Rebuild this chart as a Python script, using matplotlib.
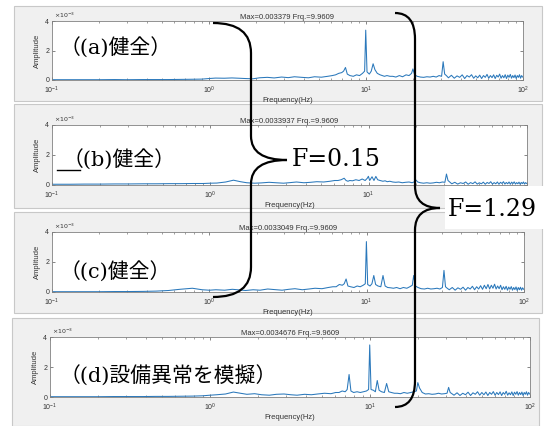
import matplotlib
matplotlib.use('Agg')
import matplotlib.pyplot as plt
from matplotlib.path import Path
from matplotlib.patches import PathPatch, Rectangle
from matplotlib.lines import Line2D

plt.rcParams['font.family'] = ['Liberation Sans', 'DejaVu Sans']

W, H = 545, 426

# --- data (amplitude in units of 1e-3) ---
freq_hz = [
    0.10, 0.13, 0.16, 0.20, 0.25, 0.30, 0.38, 0.46, 0.55, 0.65, 0.78, 0.90, 1.0,
    1.1, 1.25, 1.4, 1.55, 1.7, 1.9, 2.1, 2.35, 2.6, 2.9, 3.2, 3.5, 3.9, 4.3, 4.7, 5.2, 5.7, 6.1,
    6.4, 6.7, 7.0, 7.2, 7.4, 7.6, 7.9, 8.3, 8.7, 9.1, 9.5, 9.8, 9.96, 10.15, 10.5, 10.8, 11.1, 11.4,
    11.8, 12.3, 12.7, 13.1, 13.6, 14.2,
    14.8, 15.5, 16.3, 17.1, 18.0, 18.8, 19.5, 19.9, 20.4, 21.2, 22.2, 23.3, 24.4, 25.6, 26.8, 28.0,
    29.2, 30.3, 31.0, 31.7, 32.5,
    33.5, 35, 36.5, 38, 39.5, 41, 42.5, 44, 45.5, 47, 48.5, 50, 51.5, 53, 54.5, 56, 57.5, 59, 60.5,
    62, 63.5, 65, 66.5, 68, 69.5, 71, 72.5, 74, 75.5, 77, 78.5, 80, 81.5, 83, 84.5, 86, 87.5, 89,
    90.5, 92, 93.5, 95, 96.5, 98, 99.5,
]

amp_a = [
    0.02, 0.02, 0.02, 0.02, 0.03, 0.02, 0.03, 0.03, 0.03, 0.04, 0.05, 0.06, 0.10,
    0.13, 0.12, 0.14, 0.12, 0.10, 0.08, 0.15, 0.18, 0.14, 0.20, 0.16, 0.22, 0.18, 0.15, 0.22, 0.19, 0.25, 0.30,
    0.35, 0.45, 0.50, 0.60, 0.85, 0.40, 0.30, 0.25, 0.35, 0.30, 0.45, 0.60, 3.38, 0.55, 0.40, 0.60, 1.10, 0.70,
    0.45, 0.35, 0.30, 0.25, 0.30, 0.25,
    0.25, 0.20, 0.30, 0.22, 0.35, 0.30, 0.45, 0.75, 0.35, 0.25, 0.20, 0.18, 0.22, 0.20, 0.25, 0.20,
    0.30, 0.25, 1.24, 0.40, 0.30,
    0.15, 0.32, 0.12, 0.28, 0.18, 0.35, 0.10, 0.30, 0.20, 0.36, 0.12, 0.28, 0.15, 0.33, 0.10, 0.30, 0.18, 0.38, 0.12,
    0.30, 0.16, 0.35, 0.10, 0.32, 0.20, 0.40, 0.12, 0.30, 0.15, 0.36, 0.10, 0.33, 0.18, 0.38, 0.12, 0.30, 0.16, 0.34,
    0.10, 0.30, 0.18, 0.36, 0.12, 0.30, 0.20,
]

amp_b = [
    0.05, 0.05, 0.06, 0.06, 0.07, 0.07, 0.08, 0.08, 0.09, 0.09, 0.10, 0.10, 0.12,
    0.13, 0.20, 0.32, 0.22, 0.15, 0.12, 0.14, 0.18, 0.15, 0.12, 0.16, 0.20, 0.15, 0.18, 0.22, 0.20, 0.25, 0.30,
    0.30, 0.35, 0.45, 0.30, 0.25, 0.30, 0.28, 0.35, 0.30, 0.40, 0.30, 0.45, 0.58, 0.30, 0.55, 0.30, 0.57, 0.35,
    0.30, 0.25, 0.28, 0.22, 0.25, 0.20,
    0.18, 0.20, 0.15, 0.18, 0.20, 0.15, 0.22, 0.33, 0.20, 0.15, 0.12, 0.15, 0.12, 0.14, 0.18, 0.15,
    0.20, 0.18, 0.73, 0.30, 0.20,
    0.08, 0.18, 0.06, 0.15, 0.10, 0.20, 0.05, 0.16, 0.09, 0.21, 0.06, 0.15, 0.08, 0.19, 0.05, 0.17, 0.10, 0.22, 0.06,
    0.16, 0.08, 0.20, 0.05, 0.18, 0.10, 0.22, 0.06, 0.17, 0.08, 0.20, 0.05, 0.19, 0.09, 0.21, 0.06, 0.16, 0.08, 0.19,
    0.05, 0.17, 0.09, 0.20, 0.06, 0.16, 0.10,
]

amp_c = [
    0.02, 0.02, 0.02, 0.02, 0.03, 0.03, 0.04, 0.06, 0.10, 0.18, 0.25, 0.15, 0.12,
    0.15, 0.12, 0.18, 0.14, 0.10, 0.15, 0.12, 0.20, 0.16, 0.12, 0.18, 0.22, 0.15, 0.20, 0.25, 0.22, 0.30, 0.35,
    0.35, 0.50, 0.45, 0.55, 0.87, 0.40, 0.35, 0.30, 0.40, 0.35, 0.45, 0.55, 3.36, 0.50, 0.40, 0.55, 1.10, 0.50,
    0.40, 0.35, 1.10, 0.40, 0.30, 0.28,
    0.25, 0.30, 0.22, 0.30, 0.25, 0.35, 0.45, 1.10, 0.40, 0.30, 0.22, 0.20, 0.25, 0.20, 0.22, 0.25,
    0.20, 0.30, 1.44, 0.35, 0.25,
    0.15, 0.30, 0.12, 0.28, 0.18, 0.32, 0.12, 0.30, 0.20, 0.38, 0.15, 0.35, 0.20, 0.42, 0.18, 0.45, 0.22, 0.50, 0.20,
    0.45, 0.25, 0.52, 0.20, 0.40, 0.22, 0.45, 0.15, 0.35, 0.18, 0.38, 0.12, 0.33, 0.18, 0.36, 0.12, 0.30, 0.16, 0.34,
    0.10, 0.30, 0.15, 0.32, 0.12, 0.28, 0.18,
]

amp_d = [
    0.02, 0.02, 0.02, 0.02, 0.03, 0.03, 0.03, 0.04, 0.04, 0.05, 0.06, 0.08, 0.12,
    0.15, 0.20, 0.33, 0.25, 0.18, 0.22, 0.15, 0.12, 0.18, 0.20, 0.15, 0.12, 0.18, 0.15, 0.20, 0.25, 0.22, 0.30,
    0.30, 0.40, 0.35, 0.50, 1.50, 0.40, 0.30, 0.35, 0.30, 0.35, 0.40, 0.50, 3.47, 0.50, 0.45, 0.35, 1.10, 0.45,
    0.35, 0.30, 0.90, 0.35, 0.30, 0.25,
    0.25, 0.22, 0.30, 0.25, 0.30, 0.35, 0.40, 0.96, 0.60, 0.30, 0.20, 0.22, 0.18, 0.20, 0.25, 0.20,
    0.22, 0.25, 0.64, 0.30, 0.22,
    0.12, 0.28, 0.10, 0.25, 0.15, 0.32, 0.10, 0.28, 0.18, 0.35, 0.12, 0.30, 0.15, 0.33, 0.10, 0.30, 0.18, 0.36, 0.12,
    0.30, 0.16, 0.34, 0.10, 0.30, 0.18, 0.38, 0.12, 0.28, 0.15, 0.34, 0.10, 0.32, 0.18, 0.36, 0.12, 0.30, 0.16, 0.33,
    0.10, 0.30, 0.18, 0.35, 0.12, 0.30, 0.20,
]

series = [amp_a, amp_b, amp_c, amp_d]
titles = ['Max=0.003379 Frq.=9.9609', 'Max=0.0033937 Frq.=9.9609',
          'Max=0.0033049 Frq.=9.9609', 'Max=0.0034676 Frq.=9.9609']
labels = ['（(a)健全）', '（(b)健全）', '（(c)健全）', '（(d)設備異常を模擬）']
xticks = [0.1, 1, 10, 100]
yticks = [0, 2, 4]

# --- layout in pixels (left, top, right, bottom) ---
ax_boxes = [(52, 21, 523, 80), (52, 125, 527, 185), (52, 232, 524, 292), (50, 337, 530, 397)]
panel_boxes = [(14, 6, 542, 101), (14, 104, 542, 208), (14, 212, 542, 313), (12, 318, 539, 426)]
label_pos = [(60, 48), (63, 160), (60, 272), (60, 376)]


def fx(x):
    return x / W


def fy(y):
    return 1 - y / H


fig = plt.figure(figsize=(W / 100, H / 100), dpi=100, facecolor='white')

for (l, t, r, b) in panel_boxes:
    fig.patches.append(Rectangle((fx(l), fy(b)), fx(r - l), (b - t) / H, transform=fig.transFigure,
                                 facecolor='#f0f0f0', edgecolor='#c8c8c8', lw=0.8, zorder=-1))

for i, (l, t, r, b) in enumerate(ax_boxes):
    ax = fig.add_axes([fx(l), fy(b), fx(r - l), (b - t) / H])
    ax.plot(freq_hz, series[i], color='#2a78bb', lw=0.75)
    ax.set_xscale('log')
    ax.set_xlim(0.1, 100)
    ax.set_ylim(0, 4)
    ax.set_xticks(xticks)
    ax.set_yticks(yticks)
    ax.tick_params(which='both', direction='in', top=True, right=True, labelsize=5, pad=2,
                   color='#555555', labelcolor='#333333')
    ax.tick_params(axis='x', which='major', pad=3.5)
    ax.tick_params(which='major', length=2.5, width=0.5)
    ax.tick_params(which='minor', length=1.5, width=0.4)
    for s in ax.spines.values():
        s.set_color('#808080')
        s.set_linewidth(0.6)
    ax.set_title(titles[i], fontsize=5.5, pad=1.5, color='#333333')
    ax.set_xlabel('Frequency(Hz)', fontsize=5.5, labelpad=0.5, color='#333333')
    ax.set_ylabel('Amplitude', fontsize=5.5, labelpad=3, color='#333333')
    ax.text(0.005, 1.02, r'$\times10^{-3}$', transform=ax.transAxes, fontsize=4.5,
            va='bottom', ha='left', color='#333333')
    if i == 1:
        # this tick label sits under the pasted "F=1.29" box in the original
        ax.get_xticklabels()[-1].set_visible(False)

# annotations
for i, (x, y) in enumerate(label_pos):
    fig.text(fx(x), fy(y), labels[i], fontsize=15, va='center', ha='left',
             family=['DejaVu Serif', 'Noto Sans CJK JP'], zorder=6)

fig.lines.append(Line2D([fx(57), fx(80)], [fy(170), fy(170)], transform=fig.transFigure,
                        color='black', lw=1, zorder=6))


def brace(x0, xm, xt, y0, ym, y1, r_end, r_mid):
    pts = [(x0, y0), (xm, y0), (xm, y0 + r_end),
           (xm, ym - r_mid), (xm, ym), (xt, ym),
           (xm, ym), (xm, ym + r_mid),
           (xm, y1 - r_end), (xm, y1), (x0, y1)]
    codes = [Path.MOVETO, Path.CURVE3, Path.CURVE3,
             Path.LINETO, Path.CURVE3, Path.CURVE3,
             Path.CURVE3, Path.CURVE3,
             Path.LINETO, Path.CURVE3, Path.CURVE3]
    verts = [(fx(px), fy(py)) for px, py in pts]
    fig.patches.append(PathPatch(Path(verts, codes), transform=fig.transFigure,
                                 facecolor='none', edgecolor='black', lw=1.6, zorder=5))


brace(213, 251, 287, 23, 160, 297, 30, 24)
brace(395, 415, 440, 13, 208, 407, 26, 22)

fig.patches.append(Rectangle((fx(445), fy(229)), fx(100), 43 / H, transform=fig.transFigure,
                             facecolor='white', edgecolor='none', zorder=4))
fig.text(fx(292), fy(160), 'F=0.15', fontsize=17, va='center', ha='left',
         family='DejaVu Serif', zorder=6)
fig.text(fx(448), fy(209), 'F=1.29', fontsize=17, va='center', ha='left',
         family='DejaVu Serif', zorder=6)

fig.savefig('out.png', dpi=100, facecolor='white')
